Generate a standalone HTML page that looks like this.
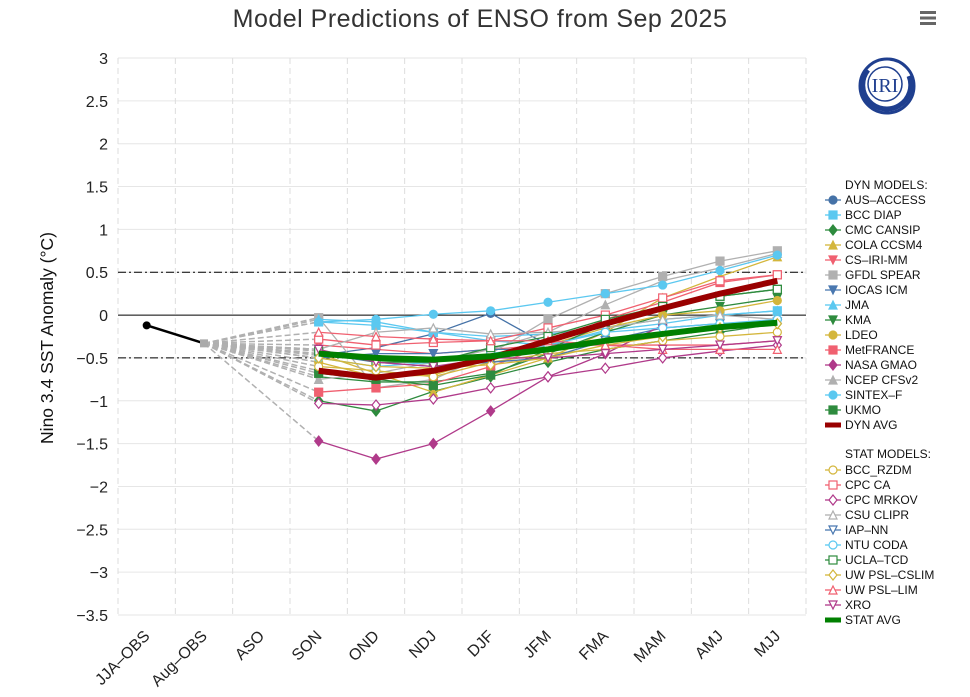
<!DOCTYPE html>
<html><head><meta charset="utf-8">
<style>
body{margin:0;background:#fff;font-family:"Liberation Sans","DejaVu Sans",sans-serif;}
svg{display:block}
</style></head>
<body>
<svg id="chart" width="970" height="697" viewBox="0 0 970 697" xmlns="http://www.w3.org/2000/svg">
<text x="480" y="27" text-anchor="middle" font-size="25" fill="#333" letter-spacing="0.5">Model Predictions of ENSO from Sep 2025</text>
<g><rect x="920" y="11" width="16" height="3" fill="#666"/><rect x="920" y="16.5" width="16" height="3" fill="#666"/><rect x="920" y="22" width="16" height="3" fill="#666"/></g>
<g>
<circle cx="887" cy="86" r="27" fill="none" stroke="#1f3f8f" stroke-width="3"/>
<path d="M 868 70 A 24 24 0 1 0 909 76" fill="none" stroke="#1f3f8f" stroke-width="5"/>
<circle cx="885" cy="84" r="17" fill="none" stroke="#1f3f8f" stroke-width="1.5"/>
<text x="885" y="92" text-anchor="middle" font-family="Liberation Serif,serif" font-size="20" fill="#1f3f8f">IRI</text>
</g>
<g id="grid"></g><g id="series"></g><g id="axes"></g><g id="legend"></g>
<text transform="translate(53,338) rotate(-90)" text-anchor="middle" font-size="17.5" fill="#111">Nino 3.4 SST Anomaly (°C)</text>
</svg>
<script>
const categories=["JJA-OBS","Aug-OBS","ASO","SON","OND","NDJ","DJF","JFM","FMA","MAM","AMJ","MJJ"];
const yTicks=[3,2.5,2,1.5,1,0.5,0,-0.5,-1,-1.5,-2,-2.5,-3,-3.5];
const obsValues=[-0.12,-0.33];
const seriesNames=["AUS-ACCESS","BCC DIAP","CMC CANSIP","COLA CCSM4","CS-IRI-MM","GFDL SPEAR","IOCAS ICM","JMA","KMA","LDEO","MetFRANCE","NASA GMAO","NCEP CFSv2","SINTEX-F","UKMO","DYN AVG","BCC_RZDM","CPC CA","CPC MRKOV","CSU CLIPR","IAP-NN","NTU CODA","UCLA-TCD","UW PSL-CSLIM","UW PSL-LIM","XRO","STAT AVG"];
const v_aus=[-0.47,-0.38,-0.22,0.02,-0.35,-0.3,-0.25,-0.12,-0.05];
const v_bcc=[-0.08,-0.12,-0.2,-0.3,-0.35,-0.18,-0.1,0.0,0.05];
const v_cmc=[-1.0,-1.12,-0.89,-0.72,-0.55,-0.4,-0.3,-0.2,-0.1];
const v_cola=[-0.45,-0.68,-0.9,-0.7,-0.5,-0.2,0.2,0.45,0.68];
const v_csiri=[-0.35,-0.4,-0.45,-0.4,-0.35,-0.35,-0.35,-0.35,-0.3];
const v_gfdl=[-0.03,-0.85,-0.75,-0.45,-0.05,0.25,0.45,0.63,0.75];
const v_iocas=[-0.5,-0.45,-0.45,-0.4,-0.4,-0.3,-0.15,-0.1,-0.08];
const v_jma=[-0.05,-0.08,-0.2,-0.25,-0.22,-0.15,-0.05,0.0,0.05];
const v_kma=[-0.72,-0.78,-0.78,-0.68,-0.45,-0.2,0.0,0.1,0.2];
const v_ldeo=[-0.55,-0.72,-0.7,-0.5,-0.35,-0.15,0.0,0.05,0.17];
const v_metf=[-0.9,-0.85,-0.8,-0.6,-0.35,-0.05,0.15,0.38,0.47];
const v_nasa=[-1.47,-1.68,-1.5,-1.12,-0.72,-0.45,-0.12,null,null];
const v_ncep=[-0.75,-0.68,-0.55,-0.4,-0.2,0.12,0.4,0.55,0.72];
const v_sintex=[-0.08,-0.05,0.01,0.05,0.15,0.25,0.35,0.52,0.7];
const v_ukmo=[-0.68,-0.75,-0.82,-0.7,-0.4,-0.1,0.1,0.22,0.3];
const v_dynavg=[-0.65,-0.73,-0.65,-0.5,-0.3,-0.1,0.08,0.25,0.4];
const v_bccr=[-0.6,-0.65,-0.72,-0.55,-0.45,-0.4,-0.3,-0.25,-0.2];
const v_cpcca=[-0.28,-0.35,-0.32,-0.3,-0.15,0.0,0.2,0.4,0.47];
const v_mrkov=[-1.03,-1.05,-0.98,-0.85,-0.72,-0.62,-0.5,-0.42,-0.35];
const v_csu=[-0.4,-0.2,-0.15,-0.22,-0.2,-0.15,-0.05,0.0,-0.05];
const v_iap=[-0.45,-0.55,-0.6,-0.55,-0.5,-0.3,-0.2,-0.15,-0.1];
const v_ntu=[-0.5,-0.6,-0.55,-0.45,-0.35,-0.2,-0.15,-0.1,-0.05];
const v_ucla=[-0.42,-0.55,-0.55,-0.38,-0.25,-0.05,0.1,0.22,0.3];
const v_cslim=[-0.5,-0.6,-0.62,-0.58,-0.5,-0.35,-0.25,-0.15,-0.1];
const v_lim=[-0.2,-0.25,-0.28,-0.3,-0.3,-0.35,-0.4,-0.4,-0.4];
const v_xro=[-0.4,-0.55,-0.6,-0.5,-0.5,-0.45,-0.4,-0.35,-0.3];
const v_statavg=[-0.45,-0.5,-0.52,-0.48,-0.4,-0.3,-0.22,-0.14,-0.09];
const seriesValues=[v_aus,v_bcc,v_cmc,v_cola,v_csiri,v_gfdl,v_iocas,v_jma,v_kma,v_ldeo,v_metf,v_nasa,v_ncep,v_sintex,v_ukmo,v_dynavg,v_bccr,v_cpcca,v_mrkov,v_csu,v_iap,v_ntu,v_ucla,v_cslim,v_lim,v_xro,v_statavg];
const colors=["#4572A7","#5bc8f0","#2e8b3e","#d4b63c","#f06070","#b0b0b0","#4a78b0","#5bc8f0","#2e8b3e","#d4b63c","#f06070","#b03a8a","#b0b0b0","#5bc8f0","#2e8b3e","#990000","#d4b63c","#f06070","#b03a8a","#b0b0b0","#4a78b0","#5bc8f0","#2e8b3e","#d4b63c","#f06070","#b03a8a","#008000"];
const markers=["circle","square","diamond","triangle","tridown","square","tridown","triangle","tridown","circle","square","diamond","triangle","circle","square","line","circle","square","diamond","triangle","tridown","circle","square","diamond","triangle","tridown","line"];
const NS="http://www.w3.org/2000/svg";
const L=118,R=806,T=58,B=615;
const x=i=>L+(i+0.5)*(R-L)/12;
const y=v=>T+(3-v)*(B-T)/6.5;
function mk(tag,a,p){const e=document.createElementNS(NS,tag);for(const k in a)e.setAttribute(k,a[k]);p.appendChild(e);return e;}
const grid=document.getElementById('grid'),ser=document.getElementById('series'),ax=document.getElementById('axes'),leg=document.getElementById('legend');
yTicks.forEach(t=>{
 const ln=mk('line',{x1:L,x2:R,y1:y(t),y2:y(t),stroke:t===0?'#000':'#e6e6e6','stroke-width':1},grid);
 
 
 const tx=mk('text',{x:108,y:y(t)+6,'text-anchor':'end','font-size':16,fill:'#222'},ax);
 tx.textContent=String(t).replace('-','−');
 
 
});
for(let i=0;i<=12;i++){
 const ln=mk('line',{x1:L+i*(R-L)/12,x2:L+i*(R-L)/12,y1:T,y2:B,stroke:'#ddd','stroke-dasharray':'6,4'},grid);
 
 
}
[0.5,-0.5].forEach(t=>{const ln=mk('line',{x1:L,x2:R,y1:y(t),y2:y(t),stroke:'#000','stroke-dasharray':'8,3,2,3'},grid);
 
 });
categories.forEach((c,i)=>{
 const tx=mk('text',{transform:`translate(${x(i)+4},${B+22}) rotate(-45)`,'text-anchor':'end','font-size':16,fill:'#222'},ax);
 tx.textContent=c.replace('-','–');
 
 
});
function marker(kind,cx,cy,col,open,p,s){
 s=s||4;let e;const f=open?'#fff':col;
 if(kind==='circle')e=mk('circle',{cx,cy,r:s,fill:f,stroke:col,'stroke-width':1.2},p);
 else if(kind==='square')e=mk('rect',{x:cx-s,y:cy-s,width:2*s,height:2*s,fill:f,stroke:col,'stroke-width':1.2},p);
 else if(kind==='diamond')e=mk('path',{d:`M${cx} ${cy-s-1}L${cx+s} ${cy}L${cx} ${cy+s+1}L${cx-s} ${cy}Z`,fill:f,stroke:col,'stroke-width':1.2},p);
 else if(kind==='triangle')e=mk('path',{d:`M${cx} ${cy-s}L${cx+s} ${cy+s}L${cx-s} ${cy+s}Z`,fill:f,stroke:col,'stroke-width':1.2},p);
 else if(kind==='tridown')e=mk('path',{d:`M${cx} ${cy+s}L${cx+s} ${cy-s}L${cx-s} ${cy-s}Z`,fill:f,stroke:col,'stroke-width':1.2},p);
 return e;
}
seriesValues.forEach(vals=>{if(vals[0]==null)return;
 const ln=mk('line',{x1:x(1),y1:y(obsValues[1]),x2:x(3),y2:y(vals[0]),stroke:'#b0b0b0','stroke-width':1.5,'stroke-dasharray':'6,3'},ser);
 
 });
const order=[...Array(seriesValues.length).keys()].filter(i=>markers[i]!=='line').concat([15,26]);
order.forEach(si=>{
 const vals=seriesValues[si],g=mk('g',{},ser);
 
 
 const isAvg=markers[si]==='line';
 const pts=vals.map((v,i)=>v==null?null:[x(i+3),y(v)]).filter(p=>p);
 mk('polyline',{points:pts.map(p=>p.join(',')).join(' '),fill:'none',stroke:colors[si],'stroke-width':isAvg?6:1.3,'stroke-linejoin':'round'},g);
 if(!isAvg)pts.forEach(p=>{const m=marker(markers[si],p[0],p[1],colors[si],si>15,g);
  
  });
});
const og=mk('g',{},ser);


mk('line',{x1:x(0),y1:y(obsValues[0]),x2:x(1),y2:y(obsValues[1]),stroke:'#000','stroke-width':2.5},og);
mk('circle',{cx:x(0),cy:y(obsValues[0]),r:4,fill:'#000'},og);
mk('rect',{x:x(1)-4,y:y(obsValues[1])-4,width:8,height:8,fill:'#aaa'},og);
function head(t,yy){const e=mk('text',{x:845,y:yy,'font-size':12,fill:'#111'},leg);e.textContent=t;
 
 }
head('DYN MODELS:',189);head('STAT MODELS:',458);
seriesNames.forEach((n,i)=>{
 const yy=i<16?200+i*15:470+(i-16)*15;
 const g=mk('g',{},leg);
 
 
 if(markers[i]==='line')mk('line',{x1:825,x2:841,y1:yy,y2:yy,stroke:colors[i],'stroke-width':5},g);
 else{mk('line',{x1:825,x2:841,y1:yy,y2:yy,stroke:colors[i],'stroke-width':1.3},g);marker(markers[i],833,yy,colors[i],i>15,g,4);}
 const t=mk('text',{x:845,y:yy+4,'font-size':12,fill:'#111'},g);t.textContent=n.replace('-','–');
});
</script>
</body></html>
